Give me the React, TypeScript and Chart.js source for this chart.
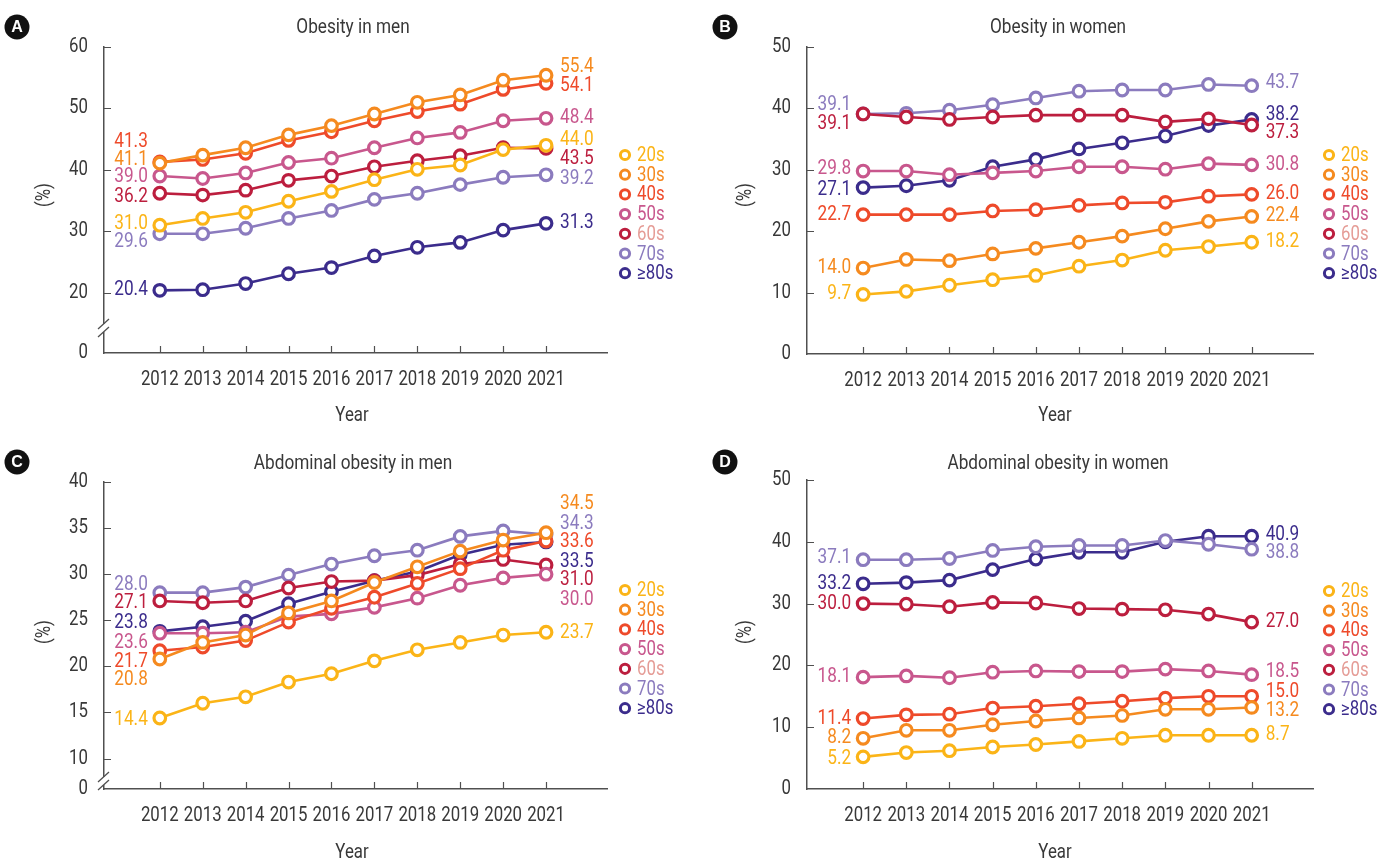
import { useEffect, useRef } from "react";
import { Chart, registerables } from "chart.js";

Chart.register(...registerables);

// ---- data -------------------------------------------------------------
const years = [2012, 2013, 2014, 2015, 2016, 2017, 2018, 2019, 2020, 2021];
const ageGroups = ["20s", "30s", "40s", "50s", "60s", "70s", "≥80s"];

// Obesity in men (%)
const menOb20s = [31.0, 32.1, 33.1, 34.9, 36.5, 38.4, 40.1, 40.8, 43.3, 44.0];
const menOb30s = [41.1, 42.4, 43.6, 45.7, 47.2, 49.1, 51.0, 52.2, 54.6, 55.4];
const menOb40s = [41.3, 41.7, 42.7, 44.8, 46.2, 48.0, 49.5, 50.7, 53.1, 54.1];
const menOb50s = [39.0, 38.6, 39.5, 41.2, 41.9, 43.6, 45.2, 46.1, 48.0, 48.4];
const menOb60s = [36.2, 35.9, 36.7, 38.3, 39.0, 40.5, 41.5, 42.3, 43.6, 43.5];
const menOb70s = [29.6, 29.6, 30.5, 32.1, 33.4, 35.2, 36.2, 37.6, 38.8, 39.2];
const menOb80s = [20.4, 20.5, 21.5, 23.1, 24.1, 26.0, 27.4, 28.2, 30.2, 31.3];

// Obesity in women (%)
const womenOb20s = [9.7, 10.2, 11.2, 12.1, 12.8, 14.3, 15.3, 16.9, 17.5, 18.2];
const womenOb30s = [14.0, 15.4, 15.2, 16.3, 17.2, 18.2, 19.2, 20.4, 21.6, 22.4];
const womenOb40s = [22.7, 22.7, 22.7, 23.3, 23.5, 24.2, 24.6, 24.7, 25.7, 26.0];
const womenOb50s = [29.8, 29.8, 29.2, 29.5, 29.8, 30.5, 30.5, 30.1, 31.0, 30.8];
const womenOb60s = [39.1, 38.6, 38.2, 38.6, 38.9, 38.9, 38.9, 37.8, 38.3, 37.3];
const womenOb70s = [39.1, 39.2, 39.7, 40.6, 41.7, 42.8, 43.0, 43.0, 43.9, 43.7];
const womenOb80s = [27.1, 27.4, 28.3, 30.5, 31.7, 33.4, 34.4, 35.5, 37.2, 38.2];

// Abdominal obesity in men (%)
const menAb20s = [14.4, 16.0, 16.7, 18.3, 19.2, 20.6, 21.8, 22.6, 23.4, 23.7];
const menAb30s = [20.8, 22.6, 23.4, 25.8, 27.1, 29.1, 30.8, 32.5, 33.7, 34.5];
const menAb40s = [21.7, 22.1, 22.8, 24.8, 26.3, 27.5, 29.0, 30.6, 32.6, 33.6];
const menAb50s = [23.6, 23.6, 23.7, 25.4, 25.7, 26.4, 27.4, 28.8, 29.6, 30.0];
const menAb60s = [27.1, 26.9, 27.1, 28.5, 29.2, 29.3, 29.9, 31.1, 31.6, 31.0];
const menAb70s = [28.0, 28.0, 28.6, 29.9, 31.1, 32.0, 32.6, 34.1, 34.7, 34.3];
const menAb80s = [23.8, 24.3, 24.9, 26.8, 28.1, 29.3, 30.3, 32.1, 33.2, 33.5];

// Abdominal obesity in women (%)
const womenAb20s = [5.2, 5.9, 6.2, 6.8, 7.2, 7.7, 8.2, 8.7, 8.7, 8.7];
const womenAb30s = [8.2, 9.5, 9.5, 10.4, 11.0, 11.5, 11.9, 12.9, 12.9, 13.2];
const womenAb40s = [11.4, 12.0, 12.1, 13.1, 13.4, 13.8, 14.2, 14.7, 15.0, 15.0];
const womenAb50s = [18.1, 18.3, 18.0, 18.9, 19.1, 19.0, 19.0, 19.4, 19.1, 18.5];
const womenAb60s = [30.0, 29.9, 29.5, 30.2, 30.1, 29.2, 29.1, 29.0, 28.3, 27.0];
const womenAb70s = [37.1, 37.1, 37.3, 38.6, 39.2, 39.4, 39.4, 40.2, 39.6, 38.8];
const womenAb80s = [33.2, 33.4, 33.8, 35.5, 37.2, 38.3, 38.3, 40.0, 40.9, 40.9];

// y-axis tick values (the lowest tick of a broken axis is labelled "0")
const ticksMenOb = [20, 30, 40, 50, 60];
const ticksWomenOb = [0, 10, 20, 30, 40, 50];
const ticksMenAb = [10, 15, 20, 25, 30, 35, 40];
const ticksWomenAb = [0, 10, 20, 30, 40, 50];

// ---- styles -----------------------------------------------------------
const seriesColors = ["#FBB417", "#F58A1F", "#EE4A2A", "#C8578D", "#BC1E3E", "#8B7BBE", "#3B2C8C"];
const legendTextColors = ["#FBB417", "#F58A1F", "#EE4A2A", "#C8578D", "#E59C96", "#8B7BBE", "#3B2C8C"];
const INK = "#383838";
const AXIS = "#505050";
const FAMILY = "Roboto, 'Liberation Sans', sans-serif";
const SQUEEZE = 0.84; // horizontal compression giving a condensed face

type Align = "left" | "right" | "center";

function drawText(
  ctx: CanvasRenderingContext2D,
  text: string,
  x: number,
  y: number,
  align: Align,
  color: string,
  size = 20,
  squeeze = SQUEEZE,
  rotate = 0,
) {
  ctx.save();
  ctx.font = `${size}px ${FAMILY}`;
  ctx.fillStyle = color;
  ctx.textBaseline = "middle";
  ctx.textAlign = align;
  ctx.translate(x, y);
  if (rotate) ctx.rotate(rotate);
  ctx.scale(squeeze, 1);
  ctx.fillText(text, 0, 0);
  ctx.restore();
}

type Panel = {
  letter: string;
  title: string;
  series: number[][];
  yMin: number;
  yMax: number;
  yTicks: number[];
};

const panels: Panel[] = [
  { letter: "A", title: "Obesity in men", series: [menOb20s, menOb30s, menOb40s, menOb50s, menOb60s, menOb70s, menOb80s], yMin: 10.2, yMax: 60, yTicks: ticksMenOb },
  { letter: "B", title: "Obesity in women", series: [womenOb20s, womenOb30s, womenOb40s, womenOb50s, womenOb60s, womenOb70s, womenOb80s], yMin: 0, yMax: 50, yTicks: ticksWomenOb },
  { letter: "C", title: "Abdominal obesity in men", series: [menAb20s, menAb30s, menAb40s, menAb50s, menAb60s, menAb70s, menAb80s], yMin: 6.7, yMax: 40, yTicks: ticksMenAb },
  { letter: "D", title: "Abdominal obesity in women", series: [womenAb20s, womenAb30s, womenAb40s, womenAb50s, womenAb60s, womenAb70s, womenAb80s], yMin: 0, yMax: 50, yTicks: ticksWomenAb },
];

type Layout = {
  left: number; top: number; width: number; height: number;
  areaLeft: number; areaTop: number; areaRight: number; areaBottom: number;
  letterX: number; letterY: number; titleX: number; titleY: number;
  yearX: number; yearY: number; pctX: number; pctY: number;
  legendX: number; legendY: number;
  breakAbove: number | null;
  // vertical nudges of the [first, last] value labels, per age group
  nudges: number[][];
};

const layouts: Layout[] = [
  {
    left: 0, top: 0, width: 700, height: 436,
    areaLeft: 104, areaTop: 47, areaRight: 607, areaBottom: 353,
    letterX: 17, letterY: 27, titleX: 353, titleY: 28,
    yearX: 352, yearY: 416, pctX: 45, pctY: 195,
    legendX: 625, legendY: 155, breakAbove: 25,
    nudges: [[-1, -5], [-3, -8], [-20, 3], [1, 0], [4, 11], [8, 4], [0, 0]],
  },
  {
    left: 700, top: 0, width: 697, height: 436,
    areaLeft: 107, areaTop: 47, areaRight: 613, areaBottom: 354,
    letterX: 25, letterY: 27, titleX: 358, titleY: 28,
    yearX: 355, yearY: 416, pctX: 46, pctY: 195,
    legendX: 629, legendY: 155, breakAbove: null,
    nudges: [[0, 0], [0, 0], [0, 0], [-2, 0], [10, 8], [-9, -3], [2, -4]],
  },
  {
    left: 0, top: 436, width: 700, height: 436,
    areaLeft: 104, areaTop: 46, areaRight: 607, areaBottom: 353,
    letterX: 17, letterY: 26, titleX: 353, titleY: 28,
    yearX: 352, yearY: 417, pctX: 45, pctY: 196,
    legendX: 625, legendY: 154, breakAbove: 8,
    nudges: [[2, 1], [21, -29], [11, 1], [10, 26], [2, 15], [-8, -11], [-8, 20]],
  },
  {
    left: 700, top: 436, width: 697, height: 436,
    areaLeft: 107, areaTop: 44, areaRight: 613, areaBottom: 353,
    letterX: 25, letterY: 26, titleX: 358, titleY: 28,
    yearX: 355, yearY: 417, pctX: 46, pctY: 196,
    legendX: 629, legendY: 155, breakAbove: null,
    nudges: [[2, 0], [0, 4], [0, -4], [0, -3], [0, 0], [-2, 4], [0, -1]],
  },
];

function makeDecor(panel: Panel, lay: Layout) {
  return {
    id: "panelDecor",
    afterDraw(chart: Chart) {
      const { ctx, chartArea } = chart;
      const xs = chart.scales.x;
      const ys = chart.scales.y;
      ctx.save();

      // inward tick marks
      ctx.strokeStyle = AXIS;
      ctx.lineWidth = 1.2;
      ctx.beginPath();
      ys.ticks.forEach((t) => {
        if (t.value === ys.min) return;
        const y = Math.round(ys.getPixelForValue(t.value)) + 0.5;
        ctx.moveTo(chartArea.left, y);
        ctx.lineTo(chartArea.left + 7, y);
      });
      xs.ticks.forEach((t) => {
        const x = Math.round(xs.getPixelForValue(t.value)) + 0.5;
        ctx.moveTo(x, chartArea.bottom);
        ctx.lineTo(x, chartArea.bottom - 7);
      });
      ctx.stroke();

      // tick labels
      ys.ticks.forEach((t) => {
        const label = t.value === ys.min ? "0" : String(t.value);
        drawText(ctx, label, chartArea.left - 16, ys.getPixelForValue(t.value), "right", INK);
      });
      xs.ticks.forEach((t) => {
        drawText(ctx, String(t.value), xs.getPixelForValue(t.value), chartArea.bottom + 27, "center", INK);
      });

      // axis titles
      drawText(ctx, "Year", lay.yearX, lay.yearY, "center", INK);
      drawText(ctx, "(%)", lay.pctX, lay.pctY, "center", INK, 20, SQUEEZE, -Math.PI / 2);

      // axis break
      if (lay.breakAbove !== null) {
        const yc = chartArea.bottom - lay.breakAbove;
        const x0 = chartArea.left;
        ctx.fillStyle = "#fff";
        ctx.fillRect(x0 - 2, yc - 4, 4, 8);
        ctx.strokeStyle = AXIS;
        ctx.lineWidth = 1.3;
        ctx.beginPath();
        ctx.moveTo(x0 - 6, yc + 1);
        ctx.lineTo(x0 + 5, yc - 9);
        ctx.moveTo(x0 - 6, yc + 9);
        ctx.lineTo(x0 + 5, yc - 1);
        ctx.stroke();
      }

      // first / last value labels
      chart.data.datasets.forEach((_ds, i) => {
        const pts = chart.getDatasetMeta(i).data;
        const vals = panel.series[i];
        const first = pts[0];
        const last = pts[pts.length - 1];
        drawText(ctx, vals[0].toFixed(1), first.x - 12, first.y + lay.nudges[i][0], "right", seriesColors[i], 20, 0.86);
        drawText(ctx, vals[vals.length - 1].toFixed(1), last.x + 14, last.y + lay.nudges[i][1], "left", seriesColors[i], 20, 0.86);
      });

      // legend
      ageGroups.forEach((g, i) => {
        const y = lay.legendY + i * 19.7;
        ctx.beginPath();
        ctx.arc(lay.legendX, y, 4.6, 0, Math.PI * 2);
        ctx.fillStyle = "#fff";
        ctx.fill();
        ctx.lineWidth = 3;
        ctx.strokeStyle = seriesColors[i];
        ctx.stroke();
        drawText(ctx, g, lay.legendX + 12, y + 1, "left", legendTextColors[i]);
      });

      // panel title
      drawText(ctx, panel.title, lay.titleX, lay.titleY, "center", INK, 20, 0.86);

      // panel letter badge
      ctx.beginPath();
      ctx.arc(lay.letterX, lay.letterY, 12.5, 0, Math.PI * 2);
      ctx.fillStyle = "#111";
      ctx.fill();
      ctx.fillStyle = "#fff";
      ctx.font = `bold 16px "Liberation Sans", Arial, sans-serif`;
      ctx.textAlign = "center";
      ctx.textBaseline = "middle";
      ctx.fillText(panel.letter, lay.letterX, lay.letterY + 1);

      ctx.restore();
    },
  };
}

function PanelChart({ panel, lay }: { panel: Panel; lay: Layout }) {
  const ref = useRef<HTMLCanvasElement | null>(null);

  useEffect(() => {
    const canvas = ref.current;
    if (!canvas) return;
    const chart = new Chart(canvas, {
      type: "line",
      data: {
        datasets: panel.series.map((vals, i) => ({
          label: ageGroups[i],
          data: years.map((yr, j) => ({ x: yr, y: vals[j] })),
          borderColor: seriesColors[i],
          backgroundColor: "#fff",
          pointBackgroundColor: "#fff",
          pointBorderColor: seriesColors[i],
          pointRadius: 5.8,
          pointBorderWidth: 3.2,
          borderWidth: 2.6,
          tension: 0,
        })),
      },
      options: {
        responsive: false,
        animation: false,
        events: [],
        layout: {
          padding: { left: 0, top: lay.areaTop, right: lay.width - lay.areaRight, bottom: 0 },
        },
        plugins: {
          legend: { display: false },
          tooltip: { enabled: false },
          title: { display: false },
        },
        scales: {
          x: {
            type: "linear",
            min: 2010.7,
            max: 2022.42,
            afterBuildTicks: (s: any) => {
              s.ticks = years.map((v) => ({ value: v }));
            },
            afterFit: (s: any) => {
              s.height = lay.height - lay.areaBottom;
            },
            ticks: { display: false },
            grid: { display: false, drawTicks: false },
            border: { display: true, color: AXIS, width: 1.5 },
          },
          y: {
            type: "linear",
            min: panel.yMin,
            max: panel.yMax,
            afterBuildTicks: (s: any) => {
              const vals = panel.yTicks[0] === panel.yMin ? panel.yTicks : [panel.yMin, ...panel.yTicks];
              s.ticks = vals.map((v) => ({ value: v }));
            },
            afterFit: (s: any) => {
              s.width = lay.areaLeft;
            },
            ticks: { display: false },
            grid: { display: false, drawTicks: false },
            border: { display: true, color: AXIS, width: 1.5 },
          },
        },
      },
      plugins: [makeDecor(panel, lay)],
    });
    return () => chart.destroy();
  }, [panel, lay]);

  return (
    <canvas
      ref={ref}
      width={lay.width}
      height={lay.height}
      style={{ position: "absolute", left: lay.left, top: lay.top, width: lay.width, height: lay.height }}
    />
  );
}

export default function App() {
  return (
    <div style={{ position: "fixed", left: 0, top: 0, width: 1397, height: 865, overflow: "hidden", background: "#fff" }}>
      {panels.map((p, i) => (
        <PanelChart key={p.letter} panel={p} lay={layouts[i]} />
      ))}
    </div>
  );
}
